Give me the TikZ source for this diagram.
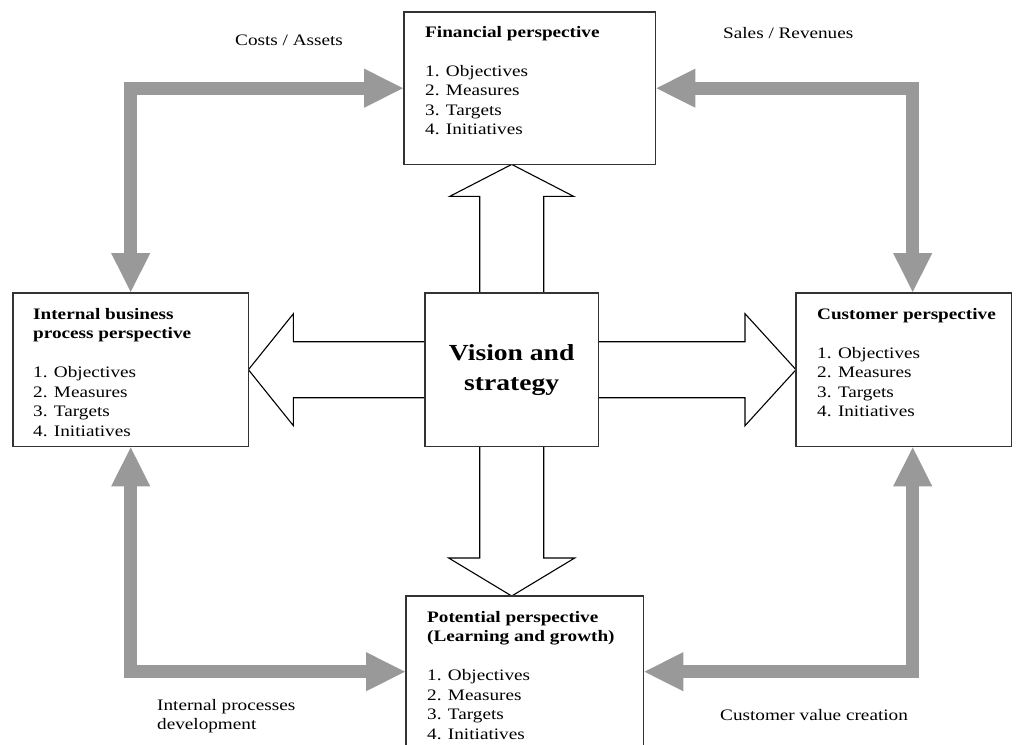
\documentclass[tikz,border=0pt]{standalone}
\usepackage{fontspec}
\setmainfont[FakeStretch=1.2]{Liberation Serif}
\usetikzlibrary{arrows.meta,calc}
\definecolor{garr}{HTML}{999999}
\definecolor{boxline}{HTML}{333333}
\begin{document}
\begin{tikzpicture}[x=1pt,y=-1pt,
  box/.style={draw=boxline, line width=1.4pt, fill=white, inner sep=0pt, anchor=north west},
  boxtext/.style={anchor=north west, inner sep=0pt, align=left, font=\fontsize{16}{19.5}\selectfont},
  lbl/.style={inner sep=0pt, align=left, font=\fontsize{16}{19.5}\selectfont},
  hollow/.style={draw=black, line width=1.1pt, fill=white, line join=miter},
  garrow/.style={draw=garr, line width=13pt, line join=miter,
    {Triangle[length=40pt,width=36pt]}-{Triangle[length=40pt,width=36pt]}}]
\useasboundingbox (0,0) rectangle (1022,744);
% boxes (shapes only, drawn first for names)
\node[box, minimum width=250pt, minimum height=151pt] (fin) at (404,12) {};
\node[box, minimum width=234pt, minimum height=152pt] (ib) at (13,293) {};
\node[box, minimum width=172pt, minimum height=152pt] (vis) at (425,293) {};
\node[box, minimum width=214pt, minimum height=152pt] (cus) at (796,293) {};
\node[box, minimum width=236pt, minimum height=160pt] (pot) at (406,596) {};
% hollow arrows
\draw[hollow] ($(vis.north)+(-32,0)$) -- ($(vis.north |- fin.south)+(-32,32)$)
  -- ($(vis.north |- fin.south)+(-62,32)$) -- (vis.north |- fin.south)
  -- ($(vis.north |- fin.south)+(62,32)$) -- ($(vis.north |- fin.south)+(32,32)$)
  -- ($(vis.north)+(32,0)$) -- cycle;
\draw[hollow] ($(vis.south)+(-32,0)$) -- ($(vis.south |- pot.north)+(-32,-38)$)
  -- ($(vis.south |- pot.north)+(-63,-38)$) -- (vis.south |- pot.north)
  -- ($(vis.south |- pot.north)+(63,-38)$) -- ($(vis.south |- pot.north)+(32,-38)$)
  -- ($(vis.south)+(32,0)$) -- cycle;
\draw[hollow] ($(vis.west)+(0,-28)$) -- ($(vis.west -| ib.east)+(45,-28)$)
  -- ($(vis.west -| ib.east)+(45,-56)$) -- (vis.west -| ib.east)
  -- ($(vis.west -| ib.east)+(45,56)$) -- ($(vis.west -| ib.east)+(45,28)$)
  -- ($(vis.west)+(0,28)$) -- cycle;
\draw[hollow] ($(vis.east)+(0,-28)$) -- ($(vis.east -| cus.west)+(-51,-28)$)
  -- ($(vis.east -| cus.west)+(-51,-56)$) -- (vis.east -| cus.west)
  -- ($(vis.east -| cus.west)+(-51,56)$) -- ($(vis.east -| cus.west)+(-51,28)$)
  -- ($(vis.east)+(0,28)$) -- cycle;
% redraw boxes on top
\draw[draw=boxline, line width=1.4pt, fill=white] (fin.north west) rectangle (fin.south east);
\draw[draw=boxline, line width=1.4pt, fill=white] (ib.north west) rectangle (ib.south east);
\draw[draw=boxline, line width=1.4pt, fill=white] (vis.north west) rectangle (vis.south east);
\draw[draw=boxline, line width=1.4pt, fill=white] (cus.north west) rectangle (cus.south east);
\draw[draw=boxline, line width=1.4pt, fill=white] (pot.north west) rectangle (pot.south east);
% gray arrows
\draw[garrow] (ib.north) |- (fin.west);
\draw[garrow] (fin.east) -| ([xshift=9pt]cus.north);
\draw[garrow] (ib.south) |- ($(pot.west)+(0,-5)$);
\draw[garrow] ([xshift=9pt]cus.south) |- ($(pot.east)+(0,-5)$);
% texts
\node[boxtext] (fint) at (425,26) {\textbf{Financial perspective}\\[19.5pt]1. Objectives\\2. Measures\\3. Targets\\4. Initiatives};
\node[boxtext] (ibt) at (33,308) {\textbf{Internal business}\\\textbf{process perspective}\\[19.5pt]1. Objectives\\2. Measures\\3. Targets\\4. Initiatives};
\node[boxtext] (cust) at (817,308) {\textbf{Customer perspective}\\[19.5pt]1. Objectives\\2. Measures\\3. Targets\\4. Initiatives};
\node[boxtext] (pott) at (427,611) {\textbf{Potential perspective}\\\textbf{(Learning and growth)}\\[19.5pt]1. Objectives\\2. Measures\\3. Targets\\4. Initiatives};
\node[inner sep=0pt, align=center, font=\fontsize{23}{30}\selectfont\bfseries] (vist) at (vis.center) {Vision and\\strategy};
\node[lbl, anchor=west] (l1) at (235,40) {Costs / Assets};
\node[lbl, anchor=west] (l2) at (723,33) {Sales / Revenues};
\node[lbl, anchor=north west] (l3) at (157,699) {Internal processes\\development};
\node[lbl, anchor=west] (l4) at (720,715) {Customer value creation};
\end{tikzpicture}
\end{document}
